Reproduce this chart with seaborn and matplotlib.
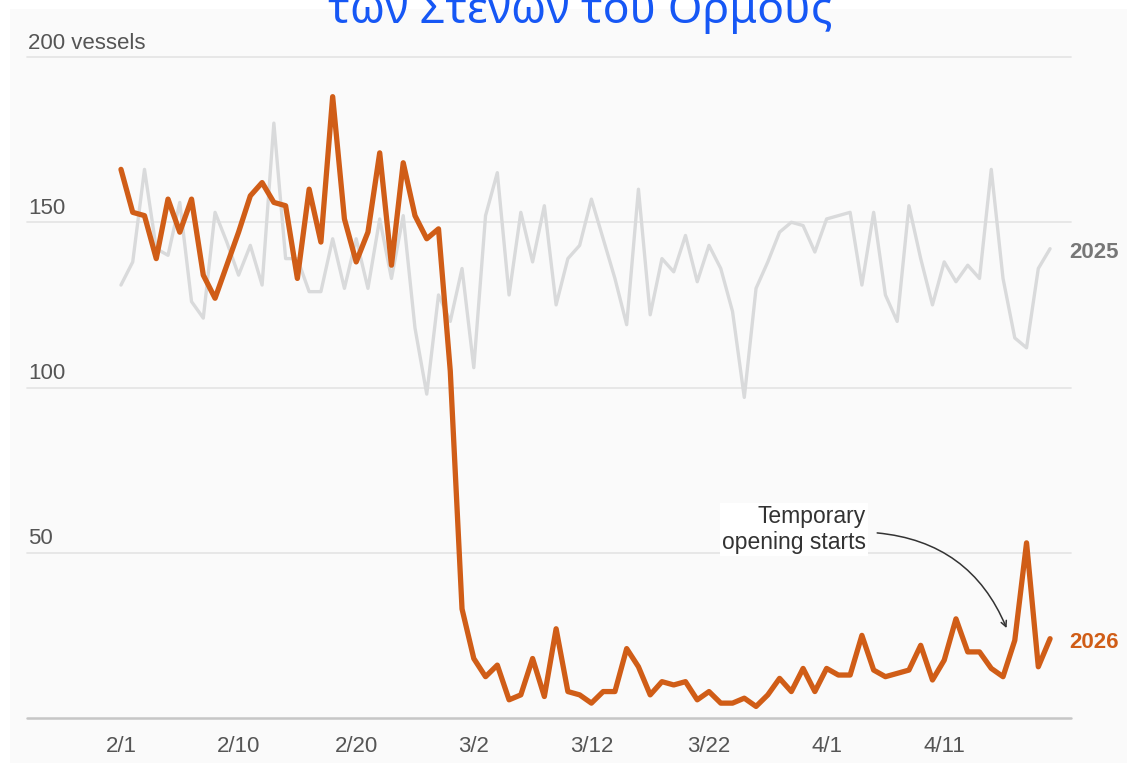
import matplotlib
matplotlib.use("Agg")
import matplotlib.pyplot as plt
from matplotlib.patches import Rectangle
import seaborn as sns
import pandas as pd
import numpy as np

# ---- data ----
vessels_2025 = [131, 138, 166, 142, 140, 156, 126, 121, 153, 144,
                134, 143, 131, 180, 139, 139, 129, 129, 145, 130,
                145, 130, 151, 133, 152, 118, 98, 128, 120, 136,
                106, 152, 165, 128, 153, 138, 155, 125, 139, 143,
                157, 145, 133, 119, 160, 122, 139, 135, 146, 132,
                143, 136, 123, 97, 130, 138, 147, 150, 149, 141,
                151, 152, 153, 131, 153, 128, 120, 155, 139, 125,
                138, 132, 137, 133, 166, 133, 115, 112, 136, 142]
vessels_2026 = [166, 153, 152, 139, 157, 147, 157, 134, 127, 137,
                147, 158, 162, 156, 155, 133, 160, 144, 188, 151,
                138, 147, 171, 137, 168, 152, 145, 148, 105, 33,
                18, 12.5, 16, 5.5, 7, 18, 6.5, 27, 8, 7,
                4.5, 8, 8, 21, 15.5, 7, 11, 10, 11, 5.5,
                8, 4.5, 4.5, 6, 3.5, 7, 12, 8, 15, 8,
                15, 13, 13, 25, 14.5, 12.5, 13.5, 14.5, 22, 11.5,
                17.5, 30, 20, 20, 15, 12.5, 23.5, 53, 15.5, 24]
day_index = list(range(len(vessels_2026)))
tick_days = [0, 10, 20, 30, 40, 50, 60, 70]
tick_labels = ["2/1", "2/10", "2/20", "3/2", "3/12", "3/22", "4/1", "4/11"]
y_grid = [50, 100, 150, 200]
y_labels = ["50", "100", "150", "200 vessels"]
title_text = "των Στενών του Ορμούς"
note_text = "Temporary\nopening starts"

df = pd.DataFrame({"day": day_index, "y2025": vessels_2025, "y2026": vessels_2026})

# ---- style ----
sns.set_style("white")
plt.rcParams["font.family"] = ["Liberation Sans", "DejaVu Sans"]

ORANGE = "#d05d17"
GRAY_LINE = "#d9dadb"
TXT = "#555555"

fig = plt.figure(figsize=(11.27, 7.65), dpi=100)
fig.patch.set_facecolor("white")
fig.patches.append(Rectangle((10 / 1127, 2 / 765), 1, (765 - 11) / 765,
                             transform=fig.transFigure, facecolor="#fafafa",
                             edgecolor="none", zorder=-10))

ax = fig.add_axes([27 / 1127, 47 / 765, 1044 / 1127, 661 / 765])
ax.set_facecolor("none")
ax.set_xlim(-7.99, 80.78)
ax.set_ylim(0, 200)

for v in y_grid:
    ax.axhline(v, color="#e6e6e6", lw=1.3, zorder=0, clip_on=False)
ax.axhline(0, color="#c6c6c6", lw=1.8, zorder=0, clip_on=False)

sns.lineplot(data=df, x="day", y="y2025", ax=ax, color=GRAY_LINE, lw=2.4,
             zorder=2, legend=False)
sns.lineplot(data=df, x="day", y="y2026", ax=ax, color=ORANGE, lw=3.8,
             zorder=3, legend=False)

for s in ax.spines.values():
    s.set_visible(False)
ax.set_xlabel("")
ax.set_ylabel("")
ax.set_yticks([])
ax.set_xticks(tick_days, tick_labels)
ax.tick_params(axis="x", length=0, pad=13, labelsize=16, labelcolor=TXT)

for v, lab in zip(y_grid, y_labels):
    ax.annotate(lab, xy=(0, v), xycoords=("axes fraction", "data"),
                xytext=(1, 6), textcoords="offset points",
                ha="left", va="baseline", fontsize=16, color=TXT)

ax.annotate("2025", xy=(day_index[-1], vessels_2025[-1]), xytext=(14, -3),
            textcoords="offset points", ha="left", va="center",
            fontsize=16, fontweight="bold", color="#777777", annotation_clip=False)
ax.annotate("2026", xy=(day_index[-1], vessels_2026[-1]), xytext=(14, -3),
            textcoords="offset points", ha="left", va="center",
            fontsize=16, fontweight="bold", color=ORANGE, annotation_clip=False)

ax.text(63.35, 57.0, note_text, ha="right", va="center", fontsize=16.5,
        color="#333333", linespacing=1.2, zorder=4,
        bbox=dict(facecolor="white", edgecolor="none", pad=1.5))
ax.annotate("", xy=(75.3, 27.2), xytext=(64.3, 56),
            arrowprops=dict(arrowstyle="->", color="#333333", lw=1.1,
                            connectionstyle="arc3,rad=-0.3",
                            shrinkA=0, shrinkB=0), zorder=4)

fig.text(580 / 1127, 1 - 23 / 765, title_text, ha="center", va="baseline",
         fontsize=32, color="#1657f5", family=["Noto Sans", "DejaVu Sans"])

fig.savefig("out.png", dpi=100)
